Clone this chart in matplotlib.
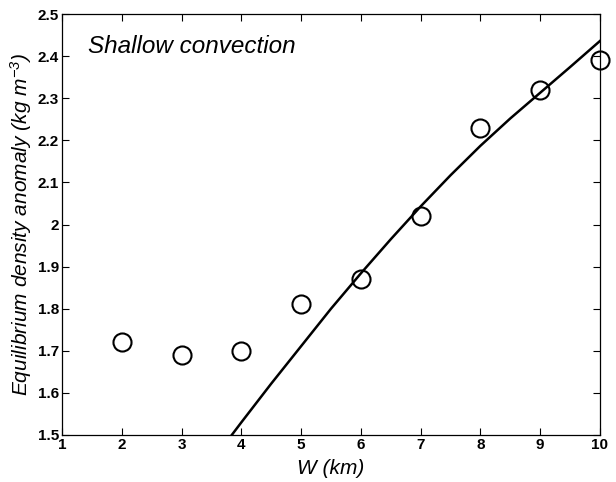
import numpy as np
import matplotlib
matplotlib.use("Agg")
import matplotlib.pyplot as plt

plt.rcParams["font.family"] = ["Liberation Sans", "DejaVu Sans"]
plt.rcParams["mathtext.fontset"] = "custom"
plt.rcParams["mathtext.rm"] = "Liberation Sans:italic"
plt.rcParams["mathtext.default"] = "rm"

# model runs: channel width vs equilibrium density anomaly
width_km = [2, 3, 4, 5, 6, 7, 8, 9, 10]
density_anom = [1.72, 1.69, 1.70, 1.81, 1.87, 2.02, 2.23, 2.32, 2.39]

# theoretical scaling curve
theory_w = [3.84, 4.0, 4.5, 5.0, 5.5, 6.0, 6.5, 7.0, 7.5, 8.0, 8.5, 9.0, 9.5, 10.0]
theory_rho = [1.500, 1.530, 1.622, 1.711, 1.800, 1.884, 1.965, 2.043,
              2.117, 2.187, 2.252, 2.313, 2.374, 2.436]

xticks = [1, 2, 3, 4, 5, 6, 7, 8, 9, 10]
yticks = [1.5, 1.6, 1.7, 1.8, 1.9, 2.0, 2.1, 2.2, 2.3, 2.4, 2.5]
ytick_labels = ["1.5", "1.6", "1.7", "1.8", "1.9", "2", "2.1", "2.2", "2.3", "2.4", "2.5"]

fig = plt.figure(figsize=(6.16, 4.82), dpi=100)
ax = fig.add_axes([62 / 616, 47 / 482, 538 / 616, 421 / 482])

ax.plot(theory_w, theory_rho, color="black", lw=1.8, clip_on=True)
ax.plot(width_km, density_anom, "o", ms=13, mfc="none", mec="black",
        mew=1.5, clip_on=False)

ax.set_xlim(1, 10)
ax.set_ylim(1.5, 2.5)
ax.set_xticks(xticks)
ax.set_yticks(yticks)
ax.set_yticklabels(ytick_labels)
ax.tick_params(direction="in", length=5, width=0.8, top=True, right=True,
               labelsize=11, pad=2)
for lab in ax.get_xticklabels() + ax.get_yticklabels():
    lab.set_fontweight("bold")
for sp in ax.spines.values():
    sp.set_linewidth(0.9)

ax.set_xlabel("W (km)", fontsize=15, style="italic", labelpad=5)
ax.set_ylabel("Equilibrium density anomaly (kg m$^{-3}$)", fontsize=15,
              style="italic", labelpad=3)
ax.text(0.048, 0.922, "Shallow convection", transform=ax.transAxes,
        fontsize=17.5, style="italic", va="center", ha="left")

fig.savefig("out.png", dpi=100)
